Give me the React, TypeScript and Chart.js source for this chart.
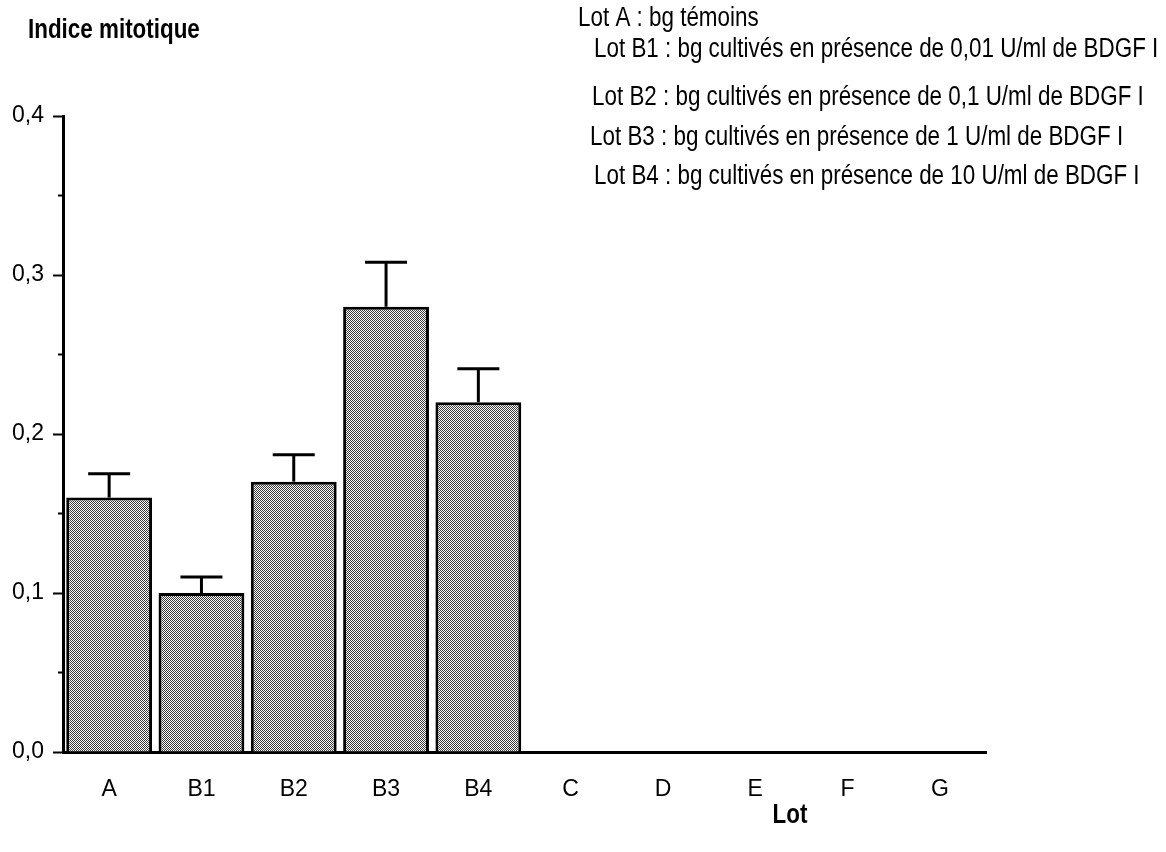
import React, { useEffect, useRef } from "react";
import { Chart, registerables } from "chart.js";

Chart.register(...registerables);

const categories = ["A", "B1", "B2", "B3", "B4", "C", "D", "E", "F", "G"];
const meanValues = [0.16, 0.1, 0.17, 0.28, 0.22, null, null, null, null, null];
const errorValues = [0.015, 0.01, 0.017, 0.028, 0.021, null, null, null, null, null];
const minorTickValues = [0.05, 0.15, 0.25, 0.35];
const yAxisTitle = "Indice mitotique";
const xAxisTitle = "Lot";
const noteLines = [
  "Lot A : bg témoins",
  "Lot B1 : bg cultivés en présence de 0,01 U/ml de BDGF I",
  "Lot B2 : bg cultivés en présence de 0,1 U/ml de BDGF I",
  "Lot B3 : bg cultivés en présence de 1 U/ml de BDGF I",
  "Lot B4 : bg cultivés en présence de 10 U/ml de BDGF I",
];
const notePositions = [
  [578, 19],
  [594, 50],
  [592, 98],
  [590, 138],
  [594, 177],
];

const FONT = "'Liberation Sans', Arial, Helvetica, sans-serif";
const FS = 27;
const SQUEEZE = 0.83;

function makePattern(): CanvasPattern | string {
  const c = document.createElement("canvas");
  c.width = 2;
  c.height = 2;
  const g = c.getContext("2d");
  if (!g) return "#a8a8a8";
  g.fillStyle = "#ffffff";
  g.fillRect(0, 0, 2, 2);
  g.fillStyle = "#3a3a3a";
  g.fillRect(0, 0, 1, 1);
  g.fillRect(1, 1, 1, 1);
  const p = g.createPattern(c, "repeat");
  return p || "#a8a8a8";
}

function squeezedText(ctx: CanvasRenderingContext2D, t: string, x: number, y: number) {
  ctx.save();
  ctx.translate(x, y);
  ctx.scale(SQUEEZE, 1);
  ctx.fillText(t, 0, 0);
  ctx.restore();
}

const errorBarPlugin = {
  id: "errorBars",
  afterDatasetsDraw(chart: any) {
    const ctx = chart.ctx;
    const meta = chart.getDatasetMeta(0);
    const yScale = chart.scales.y;
    ctx.save();
    ctx.strokeStyle = "#000";
    ctx.lineWidth = 3;
    meta.data.forEach((el: any, i: number) => {
      const v = meanValues[i];
      const e = errorValues[i];
      if (v == null || e == null) return;
      const x = el.x;
      const yTop = yScale.getPixelForValue(v);
      const yErr = yScale.getPixelForValue(v + e);
      ctx.beginPath();
      ctx.moveTo(x, yTop);
      ctx.lineTo(x, yErr);
      ctx.stroke();
      ctx.beginPath();
      ctx.moveTo(x - 21, yErr);
      ctx.lineTo(x + 21, yErr);
      ctx.stroke();
    });
    ctx.restore();
  },
};

const annotationPlugin = {
  id: "annotations",
  afterDraw(chart: any) {
    const ctx = chart.ctx;
    const yScale = chart.scales.y;
    ctx.save();
    ctx.strokeStyle = "#000";
    ctx.lineWidth = 2;
    const ax = chart.chartArea.left;
    minorTickValues.forEach((v) => {
      const y = yScale.getPixelForValue(v);
      ctx.beginPath();
      ctx.moveTo(ax - 5, y);
      ctx.lineTo(ax, y);
      ctx.stroke();
    });
    ctx.fillStyle = "#000";
    ctx.textBaseline = "middle";
    ctx.textAlign = "left";
    ctx.font = `bold ${FS}px ${FONT}`;
    squeezedText(ctx, yAxisTitle, 28, 31);
    ctx.textAlign = "center";
    squeezedText(ctx, xAxisTitle, 790, 816);
    ctx.textAlign = "left";
    ctx.font = `${FS}px ${FONT}`;
    noteLines.forEach((t, i) => {
      const [x, y] = notePositions[i];
      squeezedText(ctx, t, x, y);
    });
    ctx.restore();
  },
};

export default function App() {
  const ref = useRef<HTMLCanvasElement | null>(null);
  useEffect(() => {
    if (!ref.current) return;
    const pattern = makePattern();
    const chart = new Chart(ref.current, {
      type: "bar",
      data: {
        labels: categories,
        datasets: [
          {
            data: meanValues as any,
            backgroundColor: pattern as any,
            borderColor: "#000",
            borderWidth: 3,
            borderSkipped: "bottom",
            categoryPercentage: 1,
            barPercentage: 0.93,
          },
        ],
      },
      options: {
        responsive: false,
        animation: false,
        layout: { padding: { left: 0, right: 180, top: 116, bottom: 0 } },
        plugins: { legend: { display: false }, tooltip: { enabled: false } },
        scales: {
          x: {
            grid: { display: false },
            border: { display: true, color: "#000", width: 3 },
            ticks: {
              color: "#000",
              font: { family: FONT, size: 23 },
              padding: 16,
              maxRotation: 0,
            },
            afterFit: (s: any) => {
              s.height = 100;
            },
          },
          y: {
            min: 0,
            max: 0.4,
            grid: {
              drawOnChartArea: false,
              drawTicks: true,
              tickLength: 10,
              tickWidth: 2,
              tickColor: "#000",
            },
            border: { display: true, color: "#000", width: 3 },
            ticks: {
              stepSize: 0.1,
              color: "#000",
              padding: 9,
              font: { family: FONT, size: 23 },
              callback: (v: any) => Number(v).toFixed(1).replace(".", ","),
            },
            afterFit: (s: any) => {
              s.width = 63;
            },
          },
        },
      },
      plugins: [errorBarPlugin, annotationPlugin],
    });
    return () => chart.destroy();
  }, []);
  return (
    <div style={{ position: "fixed", left: 0, top: 0, width: 1166, height: 852, background: "#fff" }}>
      <canvas ref={ref} width={1166} height={852} style={{ display: "block" }} />
    </div>
  );
}
